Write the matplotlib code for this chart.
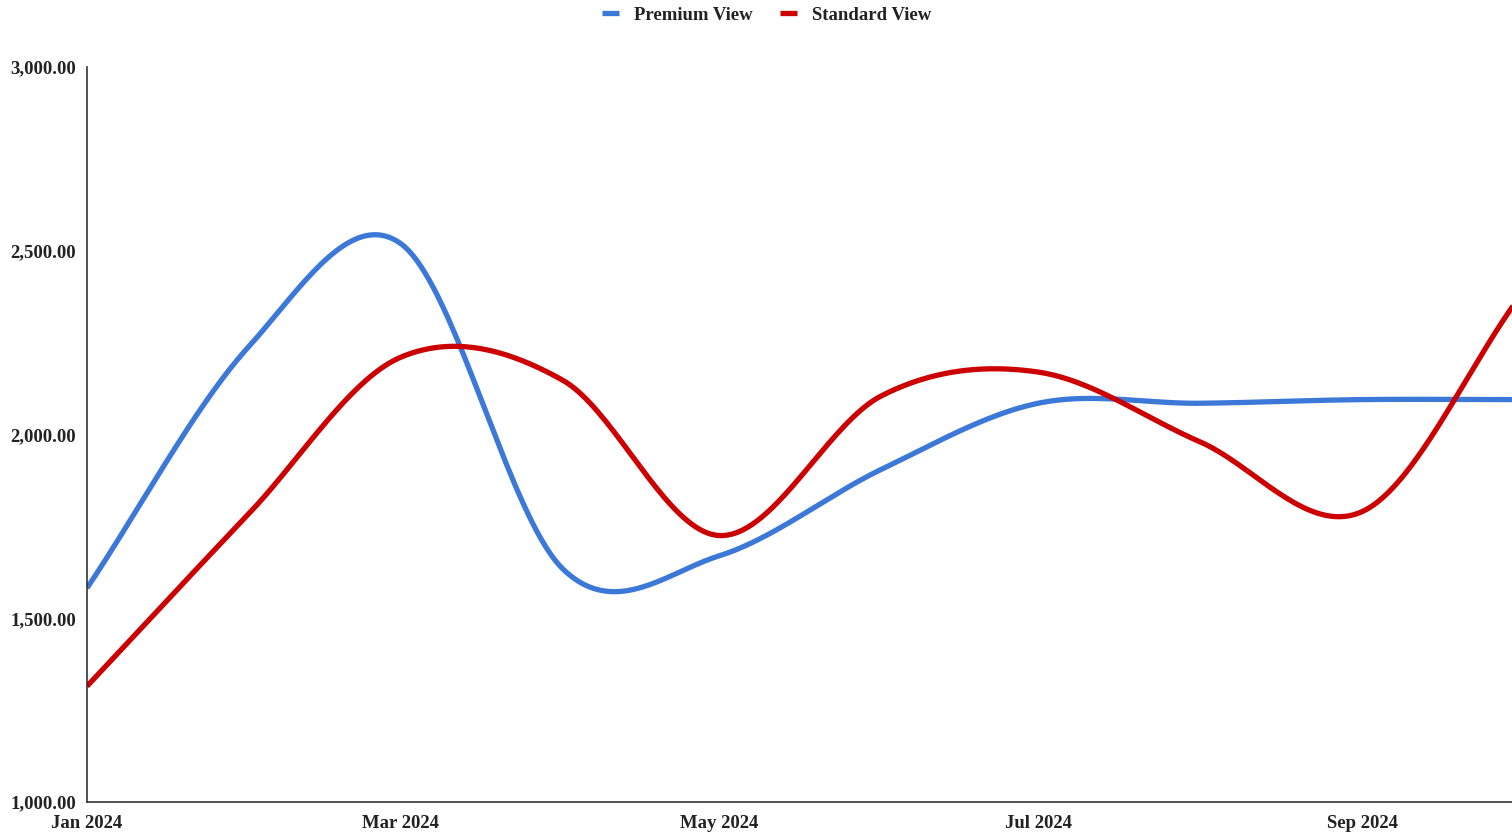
import numpy as np
import pandas as pd
import matplotlib
matplotlib.use("Agg")
import matplotlib.pyplot as plt
import matplotlib.dates as mdates
from matplotlib.ticker import FuncFormatter

plt.rcParams["font.family"] = ["Liberation Serif", "DejaVu Serif"]
plt.rcParams["font.weight"] = "bold"

months = ["2024-01-01", "2024-02-01", "2024-03-01", "2024-04-01", "2024-05-01",
          "2024-06-01", "2024-07-01", "2024-08-01", "2024-09-01", "2024-10-01"]
premium = [1582, 2240, 2520, 1635, 1670, 1905, 2085, 2085, 2095, 2095]
standard = [1315, 1785, 2210, 2148, 1725, 2105, 2170, 1980, 1790, 2372]

BLUE = "#3c78d8"
RED = "#cc0000"


def smooth(x, y, n=40):
    # catmull-rom style cubic hermite through every point
    x = np.asarray(x, float); y = np.asarray(y, float)
    m = np.empty_like(y)
    m[1:-1] = (y[2:] - y[:-2]) / (x[2:] - x[:-2])
    m[0] = (y[1] - y[0]) / (x[1] - x[0])
    m[-1] = (y[-1] - y[-2]) / (x[-1] - x[-2])
    xs, ys = [], []
    for i in range(len(x) - 1):
        h = x[i + 1] - x[i]
        t = np.linspace(0, 1, n, endpoint=(i == len(x) - 2))
        h00 = 2 * t**3 - 3 * t**2 + 1
        h10 = t**3 - 2 * t**2 + t
        h01 = -2 * t**3 + 3 * t**2
        h11 = t**3 - t**2
        xs.append(x[i] + t * h)
        ys.append(h00 * y[i] + h10 * h * m[i] + h01 * y[i + 1] + h11 * h * m[i + 1])
    return np.concatenate(xs), np.concatenate(ys)


xd = mdates.date2num(pd.to_datetime(months))

fig = plt.figure(figsize=(15.12, 8.33), dpi=100)
ax = fig.add_axes([87 / 1512, 31 / 833, 1 - 87 / 1512, 735 / 833])

for vals, col, name in ((premium, BLUE, "Premium View"), (standard, RED, "Standard View")):
    sx, sy = smooth(xd, vals)
    ax.plot(sx, sy, color=col, lw=3.8, label=name, solid_capstyle="butt")

ax.set_ylim(1000, 3000)
ax.set_xlim(xd[0], xd[0] + 272.7)
ax.set_yticks([1000, 1500, 2000, 2500, 3000])
ax.yaxis.set_major_formatter(FuncFormatter(lambda v, p: f"{v:,.2f}"))
ax.xaxis.set_major_locator(mdates.MonthLocator(bymonth=[1, 3, 5, 7, 9]))
ax.xaxis.set_major_formatter(mdates.DateFormatter("%b %Y"))
ax.tick_params(length=0, labelsize=13.5, colors="#222222")
ax.tick_params(axis="y", pad=8)
ax.tick_params(axis="x", pad=9)

for s in ("top", "right"):
    ax.spines[s].set_visible(False)
for s in ("left", "bottom"):
    ax.spines[s].set_color("#333333")
    ax.spines[s].set_linewidth(1.2)

fig.legend(loc="upper center", bbox_to_anchor=(0.507, 1.012), ncol=2, frameon=False,
           fontsize=13.5, handlelength=0.9, handletextpad=0.8, columnspacing=1.5,
           labelcolor="#222222")

fig.savefig("out.png", dpi=100)
